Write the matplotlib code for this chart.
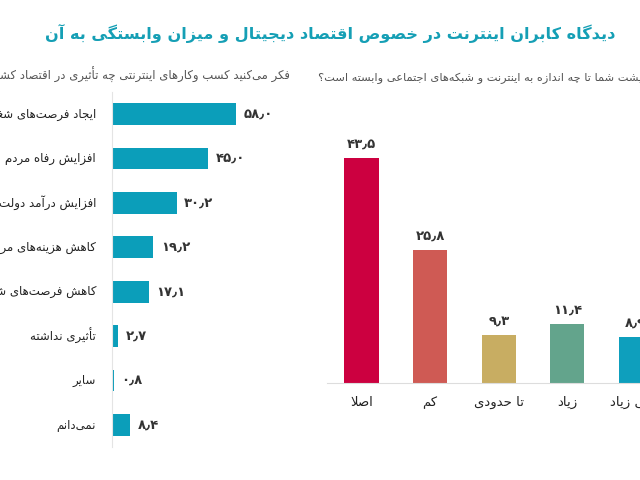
import matplotlib
matplotlib.use("Agg")
import matplotlib.pyplot as plt

plt.rcParams['font.family'] = ['DejaVu Sans']

# ---- data ----
title = "دیدگاه کابران اینترنت در خصوص اقتصاد دیجیتال و میزان وابستگی به آن"

left_question = "فکر می‌کنید کسب وکارهای اینترنتی چه تأثیری در اقتصاد کشور دارند؟"
impact_labels = ["ایجاد فرصت‌های شغلی", "افزایش رفاه مردم", "افزایش درآمد دولت",
                 "کاهش هزینه‌های مردم", "کاهش فرصت‌های شغلی", "تأثیری نداشته",
                 "سایر", "نمی‌دانم"]
impact_values = [58.0, 45.0, 30.2, 19.2, 17.1, 2.7, 0.8, 8.4]

right_question = "درآمد و معیشت شما تا چه اندازه به اینترنت و شبکه‌های اجتماعی وابسته است؟"
depend_labels = ["اصلا", "کم", "تا حدودی", "زیاد", "خیلی زیاد"]
depend_values = [43.5, 25.8, 9.3, 11.4, 8.9]
depend_colors = ["#cc0040", "#cf5a54", "#c8ad62", "#63a48c", "#0e9fbd"]
bar_color = "#0b9eba"

# ---- minimal persian shaping (matplotlib has no bidi / joining) ----
FORMS = {
    'ء': ('\uFE80', None, None, None),
    'آ': ('\uFE81', '\uFE82', None, None),
    'أ': ('\uFE83', '\uFE84', None, None),
    'ؤ': ('\uFE85', '\uFE86', None, None),
    'إ': ('\uFE87', '\uFE88', None, None),
    'ئ': ('\uFE89', '\uFE8A', '\uFE8B', '\uFE8C'),
    'ا': ('\uFE8D', '\uFE8E', None, None),
    'ب': ('\uFE8F', '\uFE90', '\uFE91', '\uFE92'),
    'ة': ('\uFE93', '\uFE94', None, None),
    'ت': ('\uFE95', '\uFE96', '\uFE97', '\uFE98'),
    'ث': ('\uFE99', '\uFE9A', '\uFE9B', '\uFE9C'),
    'ج': ('\uFE9D', '\uFE9E', '\uFE9F', '\uFEA0'),
    'ح': ('\uFEA1', '\uFEA2', '\uFEA3', '\uFEA4'),
    'خ': ('\uFEA5', '\uFEA6', '\uFEA7', '\uFEA8'),
    'د': ('\uFEA9', '\uFEAA', None, None),
    'ذ': ('\uFEAB', '\uFEAC', None, None),
    'ر': ('\uFEAD', '\uFEAE', None, None),
    'ز': ('\uFEAF', '\uFEB0', None, None),
    'س': ('\uFEB1', '\uFEB2', '\uFEB3', '\uFEB4'),
    'ش': ('\uFEB5', '\uFEB6', '\uFEB7', '\uFEB8'),
    'ص': ('\uFEB9', '\uFEBA', '\uFEBB', '\uFEBC'),
    'ض': ('\uFEBD', '\uFEBE', '\uFEBF', '\uFEC0'),
    'ط': ('\uFEC1', '\uFEC2', '\uFEC3', '\uFEC4'),
    'ظ': ('\uFEC5', '\uFEC6', '\uFEC7', '\uFEC8'),
    'ع': ('\uFEC9', '\uFECA', '\uFECB', '\uFECC'),
    'غ': ('\uFECD', '\uFECE', '\uFECF', '\uFED0'),
    'ف': ('\uFED1', '\uFED2', '\uFED3', '\uFED4'),
    'ق': ('\uFED5', '\uFED6', '\uFED7', '\uFED8'),
    'ل': ('\uFEDD', '\uFEDE', '\uFEDF', '\uFEE0'),
    'م': ('\uFEE1', '\uFEE2', '\uFEE3', '\uFEE4'),
    'ن': ('\uFEE5', '\uFEE6', '\uFEE7', '\uFEE8'),
    'ه': ('\uFEE9', '\uFEEA', '\uFEEB', '\uFEEC'),
    'و': ('\uFEED', '\uFEEE', None, None),
    'پ': ('\uFB56', '\uFB57', '\uFB58', '\uFB59'),
    'چ': ('\uFB7A', '\uFB7B', '\uFB7C', '\uFB7D'),
    'ژ': ('\uFB8A', '\uFB8B', None, None),
    'ک': ('\uFB8E', '\uFB8F', '\uFB90', '\uFB91'),
    'گ': ('\uFB92', '\uFB93', '\uFB94', '\uFB95'),
    'ی': ('\uFBFC', '\uFBFD', '\uFBFE', '\uFBFF'),
}
LAM_ALEF = {'آ': ('\uFEF5', '\uFEF6'), 'أ': ('\uFEF7', '\uFEF8'),
            'إ': ('\uFEF9', '\uFEFA'), 'ا': ('\uFEFB', '\uFEFC')}


def dual(c):
    return c in FORMS and FORMS[c][2] is not None


def joins(c):
    return c in FORMS and FORMS[c][1] is not None


def fa(text):
    out = []
    i = 0
    n = len(text)
    while i < n:
        c = text[i]
        if c == '\u200c':
            i += 1
            continue
        prev = text[i - 1] if i > 0 else ''
        link_prev = dual(prev) and joins(c)
        if c == 'ل' and i + 1 < n and text[i + 1] in LAM_ALEF:
            iso, fin = LAM_ALEF[text[i + 1]]
            out.append(fin if link_prev else iso)
            i += 2
            continue
        if c not in FORMS:
            out.append(c)
            i += 1
            continue
        nxt = text[i + 1] if i + 1 < n else ''
        link_next = dual(c) and joins(nxt)
        iso, fin, ini, med = FORMS[c]
        if link_prev and link_next:
            out.append(med)
        elif link_prev:
            out.append(fin)
        elif link_next:
            out.append(ini)
        else:
            out.append(iso)
        i += 1
    return ''.join(reversed(out))


def fa_num(v):
    digits = '۰۱۲۳۴۵۶۷۸۹'
    s = "%.1f" % v
    return ''.join(digits[int(ch)] if ch.isdigit() else '٫' for ch in s)


fig = plt.figure(figsize=(6.4, 4.8), dpi=100)
W, H = 640.0, 480.0

fig.text(330 / W, 1 - 33 / H, fa(title), ha='center', va='center',
         fontsize=11.6, fontweight='bold', color='#159fb5')

# ---- left: horizontal bars ----
ax1 = fig.add_axes([112 / W, 1 - 447 / H, 160 / W, 355 / H])
ypos = list(range(len(impact_values)))
ax1.barh(ypos, impact_values, height=0.49, color=bar_color)
ax1.set_xlim(0, 160 / 2.14)
ax1.set_ylim(7.5, -0.5)
for s in ['top', 'right', 'bottom']:
    ax1.spines[s].set_visible(False)
ax1.spines['left'].set_color('#e4e4e4')
ax1.set_xticks([])
ax1.set_yticks([])
for y, lab, v in zip(ypos, impact_labels, impact_values):
    ax1.annotate(fa(lab), xy=(0, y), xytext=(-11.5, 0), textcoords='offset points',
                 ha='right', va='center', fontsize=8.5, color='#222222',
                 annotation_clip=False)
    ax1.annotate(fa_num(v), xy=(v, y), xytext=(5.5, 0), textcoords='offset points',
                 ha='left', va='center', fontsize=9.5, color='#333333',
                 fontweight='bold', annotation_clip=False)

fig.text(290 / W, 1 - 75 / H, fa(left_question), ha='right', va='center',
         fontsize=8.4, color='#555555')

# ---- right: vertical bars ----
ax2 = fig.add_axes([327 / W, 1 - 383 / H, 380 / W, 263 / H])
xpos = list(range(len(depend_values)))
ax2.bar(xpos, depend_values, width=0.5, color=depend_colors)
ax2.set_xlim(-0.503, -0.503 + 380 / 68.6)
ax2.set_ylim(0, 263 / 5.17)
for s in ['top', 'right', 'left']:
    ax2.spines[s].set_visible(False)
ax2.spines['bottom'].set_color('#dddddd')
ax2.set_xticks([])
ax2.set_yticks([])
for x, lab, v in zip(xpos, depend_labels, depend_values):
    ax2.annotate(fa_num(v), xy=(x, v), xytext=(0, 10), textcoords='offset points',
                 ha='center', va='center', fontsize=9.5, color='#333333',
                 fontweight='bold', annotation_clip=False)
    ax2.annotate(fa(lab), xy=(x, 0), xytext=(0, -14), textcoords='offset points',
                 ha='center', va='center', fontsize=9.5, color='#222222',
                 annotation_clip=False)

fig.text(318 / W, 1 - 77 / H, fa(right_question), ha='left', va='center',
         fontsize=8.2, color='#555555')

fig.savefig('out.png', dpi=100)
